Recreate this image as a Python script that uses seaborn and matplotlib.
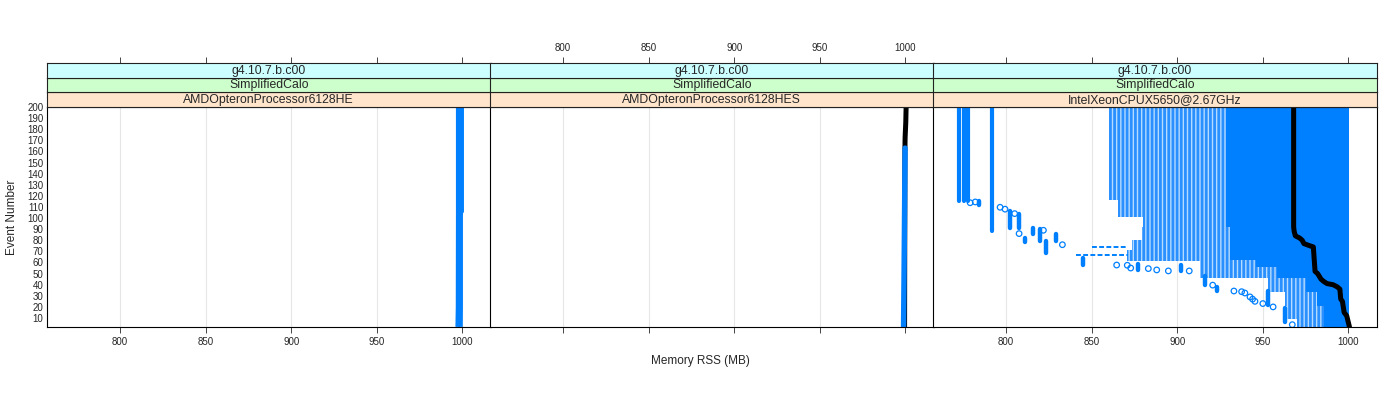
import matplotlib
matplotlib.use('Agg')
import matplotlib.pyplot as plt
import seaborn as sns

# pameť RSS vs. cislo udalosti, tri panely (lattice styl)

sns.set_theme(style='white')
plt.rcParams['font.family'] = ['Liberation Sans', 'DejaVu Sans']
plt.rcParams['hatch.linewidth'] = 2.0
plt.rcParams['hatch.color'] = '#2a8fff'

BLUE = '#0080FF'

# --- data ---
panel_names = ['AMDOpteronProcessor6128HE', 'AMDOpteronProcessor6128HES', 'IntelXeonCPUX5650@2.67GHz']
strip_version = 'g4.10.7.b.c00'
strip_app = 'SimplifiedCalo'
x_ticks = [800, 850, 900, 950, 1000]
y_ticks = [10, 20, 30, 40, 50, 60, 70, 80, 90, 100, 110, 120, 130, 140, 150, 160, 170, 180, 190, 200]

# panel 1 - dva behy, skoro konstantni
p1_event = [2, 20, 105, 106, 200]
p1_mem_left = [997.2, 997.4, 997.5, 997.5, 997.5]
p1_mem_right = [998.9, 999.0, 999.0, 999.6, 999.6]

# panel 2
p2_black_event = [2, 160, 172, 186, 200]
p2_black_mem = [999.5, 999.7, 999.8, 1000.2, 1000.4]
p2_blue_event = [2, 50, 163]
p2_blue_mem = [998.9, 999.2, 999.8]

# panel 3 - cerna referencni rada (schodovita)
p3_black_event = [200, 92, 88, 84, 82, 80, 77, 75, 74, 52, 50, 45, 43, 41, 40, 38, 36, 27, 25, 15, 12, 2]
p3_black_mem = [968.0, 968.0, 968.3, 969.0, 971.5, 973.0, 974.0, 977.5, 979.5, 980.5, 982.0, 984.0,
                985.5, 987.5, 991.0, 993.5, 995.0, 995.5, 996.5, 997.5, 999.0, 1000.6]

# husta (plna) oblast: intervaly udalosti a hranice pameti
solid_top = [200, 92, 62, 56, 46, 33, 21]
solid_bot = [92, 62, 56, 46, 33, 21, 2]
solid_left = [928.5, 931.0, 946.0, 958.0, 975.5, 981.5, 986.0]
solid_right = [1000.5, 1000.5, 1000.5, 1000.5, 1000.5, 1000.5, 1000.2]

# pruhovana oblast (ridsi body)
stripe_top = [200, 116, 101, 92, 80, 71, 61, 46, 33, 21, 9]
stripe_bot = [116, 101, 92, 80, 71, 61, 46, 33, 21, 9, 2]
stripe_left = [860.3, 865.6, 880.2, 879.5, 873.5, 870.5, 913.0, 953.0, 963.0, 964.0, 970.0]

# svisle pasy vlevo
band_mem = [772.5, 775.5, 778.0, 791.5]
band_low = [115, 115, 115, 88]
band_high = [200, 200, 200, 200]

# kratke svisle shluky bodu
blob_mem = [784.0, 802.3, 807.6, 811.0, 816.0, 819.9, 823.4, 829.0, 845.0, 877.3, 902.2, 916.2, 923.0, 953.0, 963.0]
blob_top = [115, 106, 104, 82, 91, 90, 79, 86, 64, 59, 58, 48, 38, 34, 19]
blob_bot = [111.5, 91, 91, 78.5, 86, 79.5, 68.5, 79, 58, 53, 52, 40, 34, 22, 6]

# jednotlive kolecka
circ_mem = [779.0, 782.0, 796.5, 799.4, 805.0, 807.6, 821.8, 832.9, 864.6, 870.8, 872.8, 883.1,
            888.0, 894.8, 907.0, 920.7, 933.1, 937.6, 939.5, 942.5, 944.0, 945.4, 950.0, 956.0, 967.2]
circ_event = [113.8, 114.5, 109.7, 108.0, 104.0, 86.0, 89.0, 76.0, 57.7, 57.5, 55.0, 54.5,
              53.3, 52.4, 52.4, 39.6, 34.3, 33.7, 32.5, 29.0, 27.0, 25.0, 23.0, 20.0, 4.0]

# ridke vodorovne rady
dash_event = [74.2, 66.7]
dash_from = [850.0, 841.0]
dash_to = [871.0, 871.0]

XLIM = (757.3, 1016.4)
YLIM = (1.9, 200)

# --- kresleni ---
W, H = 1400, 400
fig = plt.figure(figsize=(14, 4), dpi=100)
lefts = [47, 490, 933]
pw = 443.5

axes = []
for i in range(3):
    ax = fig.add_axes([lefts[i] / W, 1 - 327 / H, pw / W, 220 / H])
    ax.set_xlim(XLIM)
    ax.set_ylim(YLIM)
    ax.set_xticks(x_ticks)
    ax.grid(axis='x', color='#e6e6e6', lw=0.8)
    ax.set_axisbelow(True)
    for sp in ax.spines.values():
        sp.set_color('black')
        sp.set_linewidth(0.8)
    ax.tick_params(axis='x', bottom=True, top=False, direction='out', length=4.5, width=0.7,
                   color='#444444', labelsize=7, pad=3, labelbottom=(i != 1))
    ax.set_yticks(y_ticks)
    if i == 0:
        ax.tick_params(axis='y', left=True, length=0, labelsize=7, pad=2.5)
    else:
        ax.tick_params(axis='y', left=False, labelleft=False)

    # stripy nad panelem
    strips = [(92.3, 107, '#FFE5CC', panel_names[i]),
              (77.7, 92.3, '#CCFFCC', strip_app),
              (63, 77.7, '#CCFFFF', strip_version)]
    for top, bot, col, txt in strips:
        s = fig.add_axes([lefts[i] / W, 1 - bot / H, pw / W, (bot - top) / H])
        s.set_facecolor(col)
        s.set_xlim(XLIM)
        s.set_yticks([])
        for sp in s.spines.values():
            sp.set_color('#222222')
            sp.set_linewidth(0.8)
        s.text(0.5, 0.47, txt, transform=s.transAxes, ha='center', va='center', fontsize=8.8)
        if txt == strip_version:
            s.set_xticks(x_ticks)
            s.tick_params(axis='x', bottom=False, labelbottom=False, top=True, labeltop=(i == 1),
                          direction='out', length=4.5, width=0.7, color='#444444', labelsize=7, pad=2.5)
        else:
            s.set_xticks([])
    axes.append(ax)

ax1, ax2, ax3 = axes

# panel 1
sns.lineplot(x=p1_mem_left, y=p1_event, ax=ax1, sort=False, estimator=None, color=BLUE,
             lw=3.2, solid_capstyle='butt')
sns.lineplot(x=p1_mem_right, y=p1_event, ax=ax1, sort=False, estimator=None, color=BLUE,
             lw=3.2, solid_capstyle='butt')

# panel 2
sns.lineplot(x=p2_black_mem, y=p2_black_event, ax=ax2, sort=False, estimator=None, color='black',
             lw=3.6, solid_capstyle='round')
sns.lineplot(x=p2_blue_mem, y=p2_blue_event, ax=ax2, sort=False, estimator=None, color=BLUE,
             lw=3.9, solid_capstyle='round')

# panel 3 - oblasti
for t, b, l in zip(stripe_top, stripe_bot, stripe_left):
    ax3.fill_betweenx([b, t], l, 1000.5, facecolor='#b5dbff', edgecolor='#2a8fff',
                      hatch='||||', linewidth=0, zorder=1)
for t, b, l, r in zip(solid_top, solid_bot, solid_left, solid_right):
    ax3.fill_betweenx([b, t], l, r, facecolor=BLUE, edgecolor=BLUE, linewidth=0, zorder=2)

ax3.vlines(band_mem, band_low, band_high, colors=BLUE, lw=3.0, capstyle='round', zorder=3)
ax3.vlines(blob_mem, blob_bot, blob_top, colors=BLUE, lw=3.2, capstyle='round', zorder=3)
ax3.hlines(dash_event, dash_from, dash_to, colors=BLUE, lw=1.4, linestyles=(0, (2.5, 1.2)), zorder=3)
sns.scatterplot(x=circ_mem, y=circ_event, ax=ax3, color=BLUE, facecolor='none', edgecolor=BLUE,
                s=16, linewidth=0.9, zorder=4)

sns.lineplot(x=p3_black_mem, y=p3_black_event, ax=ax3, sort=False, estimator=None, color='black',
             lw=3.6, solid_capstyle='round', solid_joinstyle='round', zorder=5)

for ax in axes:
    ax.set_xlim(XLIM)
    ax.set_ylim(YLIM)
    ax.set_xlabel('')
    ax.set_ylabel('')

fig.text(12 / W, 1 - 217 / H, 'Event Number', rotation=90, ha='center', va='center', fontsize=8.5)
fig.text(700 / W, 1 - 361 / H, 'Memory RSS (MB)', ha='center', va='center', fontsize=8.5)

fig.savefig('out.png', dpi=100)
